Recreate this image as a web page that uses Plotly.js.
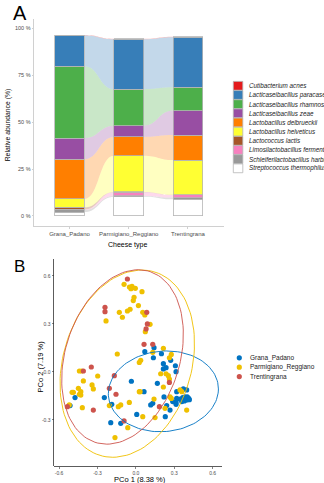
<!DOCTYPE html>
<html><head><meta charset="utf-8">
<script src="https://cdn.plot.ly/plotly-3.0.1.min.js"></script>
<style>html,body{margin:0;padding:0;background:#fff}#chart{width:324px;height:483px}</style>
</head><body><div id="chart"></div>
<script>
// ---------- Panel A data ----------
const cheeseTypes = ['Grana_Padano', 'Parmigiano_Reggiano', 'Trentingrana'];
const species = ['Cutibacterium acnes', 'Lacticaseibacillus paracasei', 'Lacticaseibacillus rhamnosus',
  'Lacticaseibacillus zeae', 'Lactobacillus delbrueckii', 'Lactobacillus helveticus', 'Lactococcus lactis',
  'Limosilactobacillus fermentum', 'Schleiferilactobacillus harbinensis', 'Streptococcus thermophilus'];
const speciesColors = ['#E41A1C', '#377EB8', '#4DAF4A', '#984EA3', '#FF7F00', '#FFFF33', '#A65628', '#F781BF', '#999999', '#FFFFFF'];
// relative abundance (%) for [Grana_Padano, Parmigiano_Reggiano, Trentingrana]
const cutibacterium = [0.2, 0.2, 0.2];
const paracasei = [16.4, 26.6, 26.7];
const rhamnosus = [38.2, 19.4, 12.4];
const zeae = [11.2, 6.0, 13.0];
const delbrueckii = [21.2, 10.0, 13.3];
const helveticus = [4.5, 19.3, 18.5];
const lactis = [1.1, 0.1, 0.1];
const fermentum = [0.3, 2.0, 1.4];
const harbinensis = [1.1, 0.4, 0.9];
const thermophilus = [2.1, 10.3, 8.9];
const abundanceTickVals = [0, 25, 50, 75, 100];
const abundanceTickText = ['0 %', '25 %', '50 %', '75 %', '100 %'];

// ---------- Panel B data (PCoA) ----------
const groups = ['Grana_Padano', 'Parmigiano_Reggiano', 'Trentingrana'];
const groupColors = ['#0073C2', '#EFC000', '#CD534C'];
const granaX = [0.07, 0.142, 0.2, 0.137, 0.272, 0.215, 0.236, 0.215, 0.309, 0.314, -0.035, 0.168, 0.064, 0.319, 0.371, 0.397, 0.22,
  0.319, 0.345, 0.366, 0.384, 0.402, 0.413, 0.397, 0.379, 0.359, 0.418, 0.288, 0.314, 0.314, 0.116, 0.132, 0.241, 0.267,
  0.007, 0.23, -0.475, -0.514, -0.246, -0.188, -0.196, -0.118];
const granaY = [0.127, 0.152, 0.114, 0.089, 0.073, 0.052, 0.027, 0.019, 0.039, 0.002, -0.058, -0.071, -0.123, -0.123, -0.106, -0.112, -0.156,
  -0.165, -0.169, -0.16, -0.156, -0.156, -0.165, -0.175, -0.181, -0.185, -0.173, -0.185, -0.19, -0.202, -0.206, -0.196, -0.21, -0.238,
  -0.265, -0.279, -0.16, -0.21, -0.16, -0.202, -0.317, -0.321];
const parmX = [-0.092, -0.05, -0.03, -0.004, -0.038, 0.048, -0.014, -0.02, 0.02, -0.129, -0.066, -0.045, -0.105, -0.233, 0.054, 0.07,
  0.111, 0.074, 0.215, 0.132, 0.277, 0.262, 0.038, 0.027, -0.145, -0.441, -0.423, -0.298, -0.41, -0.342, -0.332, -0.449, -0.43,
  -0.498, -0.488, -0.441, -0.43, -0.52, -0.418, -0.207, -0.137, -0.118, -0.051, 0.027, -0.063, -0.163, 0.236, 0.194, 0.254, 0.262,
  0.215, 0.033, 0.345, 0.359, 0.267, 0.277, 0.142, 0.228, 0.397, 0.054, 0.15];
const parmY = [0.548, 0.531, 0.535, 0.523, 0.52, 0.502, 0.467, 0.446, 0.415, 0.373, 0.381, 0.392, 0.342, 0.319, 0.373, 0.356,
  0.298, 0.252, 0.148, 0.123, 0.11, 0.089, 0.073, 0.06, 0.1125, 0.006, 0.006, -0.025, -0.056, -0.081, -0.106, -0.102, -0.123,
  -0.127, -0.127, -0.139, -0.144, -0.206, -0.223, -0.21, -0.217, -0.206, -0.19, -0.123, -0.348, -0.41, -0.011, -0.011, -0.023, -0.044,
  -0.094, -0.123, -0.112, -0.123, -0.156, -0.165, -0.169, -0.227, -0.238, -0.279, -0.285];
const trentX = [-0.066, -0.241, -0.241, 0.085, 0.09, 0.08, 0.064, 0.132, -0.41, -0.348, -0.535, -0.332, -0.207, -0.168, -0.155, -0.092, 0.262, 0.184];
const trentY = [0.581, 0.404, 0.377, 0.373, 0.3, 0.269, 0.173, 0.173, 0.006, 0.031, -0.217, -0.238, -0.102, -0.023, -0.139, -0.306, -0.065, -0.217];
// confidence ellipses: centre and two conjugate semi-diameters
const ellipseCentres = [[0.215, -0.121], [-0.067, 0.052], [-0.104, 0.094]];
const ellipseU = [[0.43, 0.015], [0.113, 0.585], [0.123, 0.545]];
const ellipseV = [[0.0, 0.252], [0.513, 0.0], [0.459, 0.0]];
const pcoXTicks = [-0.6, -0.3, 0, 0.3, 0.6];
const pcoXTickText = ['-0.6', '-0.3', '0.0', '0.3', '0.6'];
const pcoYTicks = [-0.3, 0, 0.3, 0.6];
const pcoYTickText = ['-0.3', '0.0', '0.3', '0.6'];

// ---------- build ----------
const W = 324, H = 483;
const px = v => v / W;
const py = v => 1 - v / H;
const FONT = 'Liberation Sans, Arial, sans-serif';

const speciesValues = [cutibacterium, paracasei, rhamnosus, zeae, delbrueckii, helveticus, lactis, fermentum, harbinensis, thermophilus];
const catX = cheeseTypes.map((c, i) => i);
const barWidth = 0.5;
const traces = [];
const shapes = [];
const annotations = [];

// stacking order: bottom = last species
const stackOrder = species.map((s, i) => i).reverse();
stackOrder.forEach(k => {
  traces.push({
    type: 'bar', x: catX, y: speciesValues[k], width: cheeseTypes.map(() => barWidth),
    name: species[k], xaxis: 'x', yaxis: 'y', showlegend: false,
    marker: {color: speciesColors[k], line: {color: '#B5B5B5', width: 0.8}},
    hoverinfo: 'skip'
  });
});

function hexToRgba(hex, a) {
  const n = parseInt(hex.slice(1), 16);
  return `rgba(${(n >> 16) & 255},${(n >> 8) & 255},${n & 255},${a})`;
}
// cumulative bounds
const bounds = {};
cheeseTypes.forEach((c, j) => {
  let acc = 0;
  stackOrder.forEach(k => {
    const v = speciesValues[k][j];
    bounds[k + '_' + j] = [acc, acc + v];
    acc += v;
  });
});
for (let j = 0; j < cheeseTypes.length - 1; j++) {
  const x0 = j + barWidth / 2, x1 = j + 1 - barWidth / 2, xm = (x0 + x1) / 2;
  stackOrder.forEach(k => {
    if (speciesColors[k] === '#FFFFFF') return;
    const [b0, t0] = bounds[k + '_' + j];
    const [b1, t1] = bounds[k + '_' + (j + 1)];
    shapes.push({
      type: 'path', xref: 'x', yref: 'y', layer: 'below',
      path: `M ${x0},${b0} C ${xm},${b0} ${xm},${b1} ${x1},${b1} L ${x1},${t1} C ${xm},${t1} ${xm},${t0} ${x0},${t0} Z`,
      fillcolor: hexToRgba(speciesColors[k], 0.3), line: {width: 0}
    });
  });
}

// Panel B scatter
const gx = [granaX, parmX, trentX], gy = [granaY, parmY, trentY];
groups.forEach((g, i) => {
  traces.push({
    type: 'scatter', mode: 'markers', x: gx[i], y: gy[i], name: g, xaxis: 'x2', yaxis: 'y2', showlegend: false,
    marker: {color: groupColors[i], size: 5.2, line: {width: 0}}, hoverinfo: 'skip'
  });
});
groups.forEach((g, i) => {
  const ex = [], ey = [];
  for (let s = 0; s <= 120; s++) {
    const t = 2 * Math.PI * s / 120;
    ex.push(ellipseCentres[i][0] + ellipseU[i][0] * Math.cos(t) + ellipseV[i][0] * Math.sin(t));
    ey.push(ellipseCentres[i][1] + ellipseU[i][1] * Math.cos(t) + ellipseV[i][1] * Math.sin(t));
  }
  traces.push({
    type: 'scatter', mode: 'lines', x: ex, y: ey, xaxis: 'x2', yaxis: 'y2', showlegend: false,
    line: {color: groupColors[i], width: 0.9}, hoverinfo: 'skip'
  });
});

// Legend A (manual, compact like ggplot)
species.forEach((s, i) => {
  const cy = 85.8 + 9.17 * i;
  shapes.push({type: 'rect', xref: 'paper', yref: 'paper', x0: px(233.3), x1: px(242.8), y0: py(cy - 4.4), y1: py(cy + 4.4),
    fillcolor: speciesColors[i], line: {color: '#B5B5B5', width: 0.8}});
  annotations.push({xref: 'paper', yref: 'paper', x: px(246.5), y: py(cy), xanchor: 'left', yanchor: 'middle',
    text: '<i>' + s + '</i>', showarrow: false, font: {family: FONT, size: 6.3, color: '#1a1a1a'}});
});
// Legend B
groups.forEach((g, i) => {
  const cy = 357.8 + 9.4 * i;
  shapes.push({type: 'circle', xref: 'paper', yref: 'paper', x0: px(236.7), x1: px(241.9), y0: py(cy + 2.6), y1: py(cy - 2.6),
    fillcolor: groupColors[i], line: {width: 0}});
  annotations.push({xref: 'paper', yref: 'paper', x: px(247.5), y: py(cy), xanchor: 'left', yanchor: 'middle',
    text: g, showarrow: false, font: {family: FONT, size: 6.5, color: '#1a1a1a'}});
});

// titles / panel letters
const addText = (text, x, y, size, angle) => annotations.push({xref: 'paper', yref: 'paper', x: px(x), y: py(y),
  xanchor: 'center', yanchor: 'middle', text: text, showarrow: false, textangle: angle || 0,
  font: {family: FONT, size: size, color: '#000'}});
addText('A', 19.7, 13.5, 20);
addText('B', 19, 266.5, 17);
addText('Relative abundance (%)', 8.3, 125, 6.8, -90);
addText('Cheese type', 127.7, 245, 7);
addText('PCo 1 (8.38 %)', 140, 479.3, 7.5);
addText('PCo 2 (7.19 %)', 39.5, 367, 7.5, -90);

const layout = {
  width: W, height: H, margin: {l: 0, r: 0, t: 0, b: 0, autoexpand: false},
  paper_bgcolor: '#fff', plot_bgcolor: 'rgba(0,0,0,0)', showlegend: false, barmode: 'stack',
  font: {family: FONT, color: '#4D4D4D'},
  xaxis: {domain: [px(34), px(223.5)], range: [-0.6, 2.6], anchor: 'y', tickvals: catX, ticktext: cheeseTypes,
    showgrid: false, zeroline: false, showline: true, linecolor: '#C4C4C4', linewidth: 0.8,
    ticks: 'outside', ticklen: 2, tickcolor: '#C4C4C4', tickwidth: 0.8, tickfont: {size: 6, color: '#4D4D4D'}, fixedrange: true},
  yaxis: {domain: [py(226), py(19.3)], range: [-5.33, 104.7], anchor: 'x', tickvals: abundanceTickVals, ticktext: abundanceTickText,
    showgrid: false, zeroline: false, showline: true, linecolor: '#C4C4C4', linewidth: 0.8,
    ticks: 'outside', ticklen: 1.5, tickcolor: '#C4C4C4', tickwidth: 0.8, tickfont: {size: 5.5, color: '#4D4D4D'}, fixedrange: true},
  xaxis2: {domain: [px(54.3), px(222)], range: [-0.637, 0.673], anchor: 'y2', tickvals: pcoXTicks, ticktext: pcoXTickText,
    showgrid: false, zeroline: false, showline: true, linecolor: '#333', linewidth: 0.8,
    ticks: 'outside', ticklen: 2, tickcolor: '#333', tickwidth: 0.6, tickfont: {size: 5, color: '#4D4D4D'}, fixedrange: true},
  yaxis2: {domain: [py(466), py(259)], range: [-0.5875, 0.706], anchor: 'x2', tickvals: pcoYTicks, ticktext: pcoYTickText,
    showgrid: false, zeroline: false, showline: true, linecolor: '#333', linewidth: 0.8,
    ticks: 'outside', ticklen: 2, tickcolor: '#333', tickwidth: 0.6, tickfont: {size: 5, color: '#4D4D4D'}, fixedrange: true},
  shapes: shapes, annotations: annotations
};
Plotly.newPlot('chart', traces, layout, {staticPlot: true, displayModeBar: false});
</script></body></html>
